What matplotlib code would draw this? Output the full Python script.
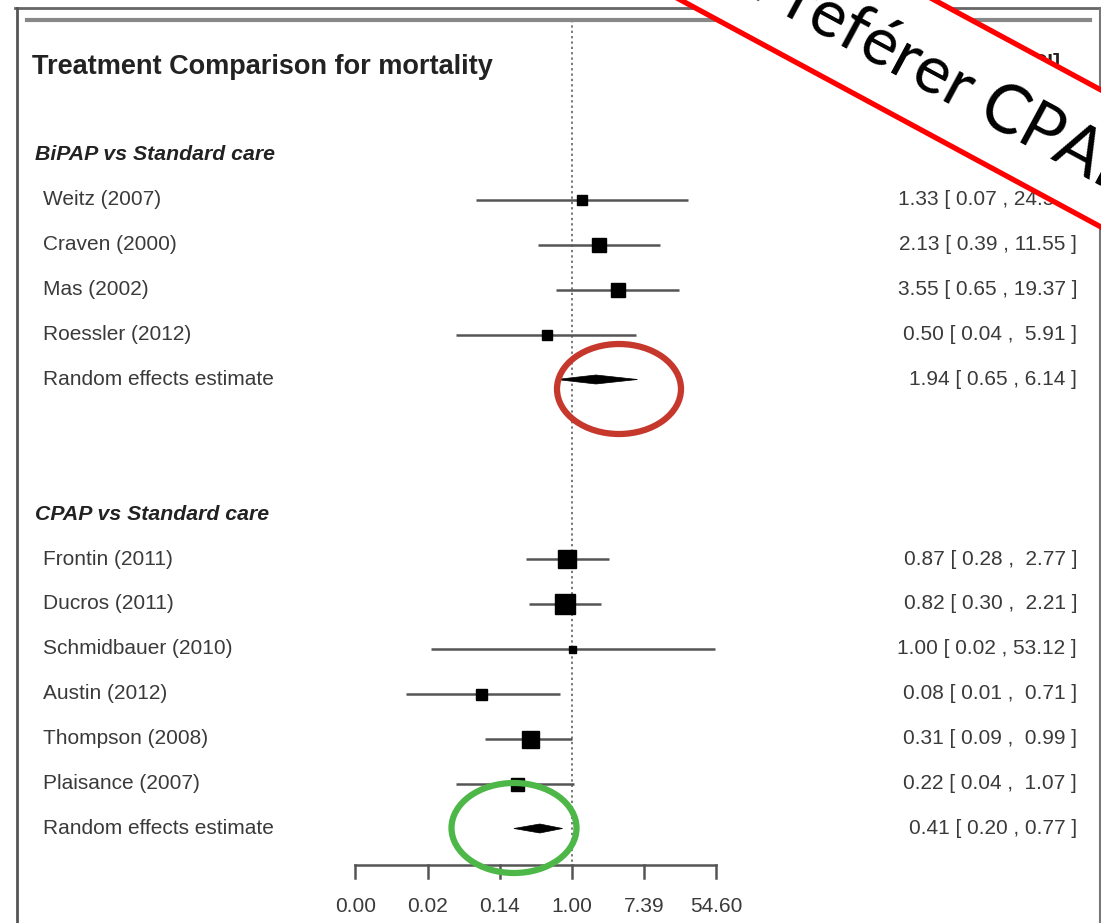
import numpy as np
import matplotlib
matplotlib.use('Agg')
import matplotlib.pyplot as plt
from matplotlib.patches import Ellipse, Polygon

W, H = 1101, 923

# BiPAP vs standard care
bipap_names = ['Weitz (2007)', 'Craven (2000)', 'Mas (2002)', 'Roessler (2012)']
bipap_est = [1.33, 2.13, 3.55, 0.50]
bipap_lo = [0.07, 0.39, 0.65, 0.04]
bipap_hi = [24.54, 11.55, 19.37, 5.91]
bipap_size = [10, 14, 14, 10]
bipap_re = (1.94, 0.65, 6.14)

# CPAP vs standard care
cpap_names = ['Frontin (2011)', 'Ducros (2011)', 'Schmidbauer (2010)', 'Austin (2012)',
              'Thompson (2008)', 'Plaisance (2007)']
cpap_est = [0.87, 0.82, 1.00, 0.08, 0.31, 0.22]
cpap_lo = [0.28, 0.30, 0.02, 0.01, 0.09, 0.04]
cpap_hi = [2.77, 2.21, 53.12, 0.71, 0.99, 1.07]
cpap_size = [18, 20, 7, 11, 17, 13]
cpap_re = (0.41, 0.20, 0.77)

tick_logs = [-6, -4, -2, 0, 2, 4]

# layout: pixel calibration of the log-ratio axis and the row grid
X0, XU = 572, 36.1       # px of log(1), px per log unit
Y0, YU = 155, 44.9       # px of row 0, px per row

plt.rcParams['font.family'] = ['Liberation Sans', 'DejaVu Sans']
fig = plt.figure(figsize=(W / 100, H / 100), dpi=100, facecolor='w')

ax = fig.add_axes([0, 0, 1, 1])
ax.set_xlim(-X0 / XU, (W - X0) / XU)
ax.set_ylim((H - Y0) / YU, -Y0 / YU)
ax.axis('off')

px = lambda x: (x - X0) / XU
py = lambda y: (y - Y0) / YU

LINE = '#555555'
TXT = '#3a3a3a'
FS = 15


def ci_text(est, lo, hi, pad):
    if pad:
        return '%.2f [ %.2f , %5.2f ]' % (est, lo, hi)
    return '%.2f [ %.2f , %.2f ]' % (est, lo, hi)


def draw_group(row0, title, names, est, lo, hi, sizes, re):
    ax.text(px(35), row0, title, fontsize=15.3, fontweight='bold', style='italic',
            color='#222222', va='center', ha='left')
    pad = max(hi) >= 10
    for i, name in enumerate(names):
        r = row0 + 1 + i
        ax.text(px(43), r, name, fontsize=FS, color=TXT, va='center', ha='left')
        ax.plot([np.log(lo[i]), np.log(hi[i])], [r, r], color=LINE, lw=1.8,
                solid_capstyle='butt', zorder=2)
        ax.plot(np.log(est[i]), r, 's', color='black', ms=sizes[i] * 0.72,
                mec='black', zorder=3)
        ax.text(px(1077), r, ci_text(est[i], lo[i], hi[i], pad), fontsize=FS,
                color=TXT, va='center', ha='right')
    r = row0 + 1 + len(names)
    e, l, h = np.log(re)
    dh = 4.5 / YU
    ax.add_patch(Polygon([[l, r], [e, r - dh], [h, r], [e, r + dh]], closed=True,
                         facecolor='black', edgecolor='black', lw=0.5, zorder=3))
    ax.text(px(43), r, 'Random effects estimate', fontsize=FS, color=TXT,
            va='center', ha='left')
    ax.text(px(1077), r, ci_text(*re, False), fontsize=FS, color=TXT,
            va='center', ha='right')


ax.text(px(32), py(67), 'Treatment Comparison for mortality', fontsize=19.5,
        fontweight='bold', color='#222222', va='center', ha='left')
ax.text(px(1060), py(63), 'RR [95% CI]', fontsize=FS, fontweight='bold',
        color='#222222', va='center', ha='right')

draw_group(0, 'BiPAP vs Standard care', bipap_names, bipap_est, bipap_lo, bipap_hi,
           bipap_size, bipap_re)
draw_group(8, 'CPAP vs Standard care', cpap_names, cpap_est, cpap_lo, cpap_hi,
           cpap_size, cpap_re)

# reference line at ratio 1
ax.plot([0, 0], [py(20), py(865)], color=LINE, lw=1.1, ls=(0, (1.5, 2)), zorder=1)

# x axis
ya = py(865)
ax.plot([tick_logs[0], tick_logs[-1]], [ya, ya], color=LINE, lw=1.8)
for t in tick_logs:
    ax.plot([t, t], [ya, py(878)], color=LINE, lw=1.8)
    ax.text(t, py(907), '%.2f' % np.exp(t), fontsize=FS, color=TXT,
            ha='center', va='center')

# overlay in pixel coordinates: slide frame, highlights, banner
ov = fig.add_axes([0, 0, 1, 1], facecolor='none')
ov.set_xlim(0, W)
ov.set_ylim(H, 0)
ov.axis('off')

ov.plot([15, W], [8, 8], color='#666666', lw=2)
ov.plot([17, 17], [8, H], color='#555555', lw=2)
ov.plot([1100, 1100], [8, H], color='#777777', lw=1.5)
ov.plot([27, 1090], [20, 20], color='#888888', lw=3)

ov.add_patch(Ellipse((619, 389), 124, 90, fill=False, edgecolor='#C6372C', lw=4.5,
                     zorder=5))
ov.add_patch(Ellipse((514, 828), 125, 90, fill=False, edgecolor='#4DB848', lw=4.5,
                     zorder=5))

slope = 0.54
xs = np.array([600, 1200])
lower = 227 + slope * (xs - 1101)
upper = 90 + slope * (xs - 1101)
ov.add_patch(Polygon([[xs[0], lower[0]], [xs[1], lower[1]], [xs[1], upper[1]],
                      [xs[0], upper[0]]], closed=True, facecolor='white',
                     edgecolor='none', zorder=6))
ov.plot(xs, lower, color='#FF0000', lw=3.8, zorder=7)
ov.plot(xs, upper, color='#FF0000', lw=3.8, zorder=7)
ang = np.degrees(np.arctan(slope))
ov.text(945, 80, 'Préférer CPAP', fontsize=48, family=['Lato', 'DejaVu Sans'],
        color='black', rotation=-ang, rotation_mode='anchor', ha='center',
        va='center', zorder=8)

fig.savefig('out.png', dpi=100, facecolor='w')
